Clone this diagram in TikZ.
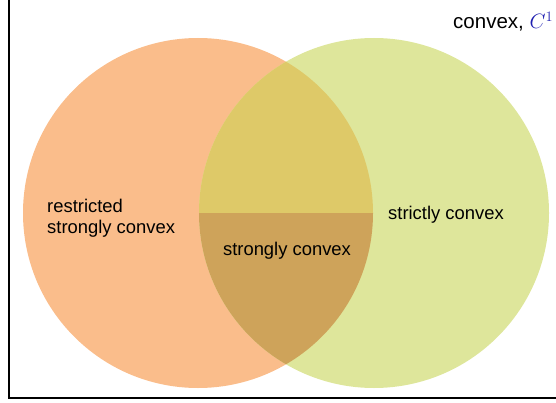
\documentclass[tikz,border=0pt]{standalone}
\usepackage{fontspec}
\setmainfont{Liberation Sans}
\usepackage{tikz}
\DeclareMathSizes{20.5}{20.74}{14.4}{12}

\definecolor{setorange}{HTML}{FABD8B}
\definecolor{setgreen}{HTML}{DEE69B}
\definecolor{lensupper}{HTML}{DEC968}
\definecolor{lenslower}{HTML}{CEA35A}
\definecolor{mathblue}{HTML}{1E1EB0}

\begin{document}
\begin{tikzpicture}
[
  x=1pt, y=1pt,
  venntext/.style = {inner sep = 0pt, font = \fontsize{18.4}{20.5}\selectfont},
]
\useasboundingbox (0,0) rectangle (556,402);
\clip (0,0) rectangle (556,402);

\coordinate (L) at (198,189);
\coordinate (R) at (374,189);

\fill[setorange] (L) circle (175pt);
\fill[setgreen] (R) circle (175pt);
\begin{scope}
  \clip (L) circle (175pt);
  \clip (R) circle (175pt);
  \fill[lensupper] (0,189) rectangle (556,402);
  \fill[lenslower] (0,0) rectangle (556,189);
\end{scope}

\draw[line width=2pt] (8.5,410) -- (8.5,4.5) -- (570,4.5);

\node (restricted) at (47,184) [venntext, anchor=west, align=left] {restricted\\strongly convex};
\node (strictly) at (388,187) [venntext, anchor=west] {strictly convex};
\node (strongly) at (287,151) [venntext] {strongly convex};
\node (convex) at (453,373) [venntext, anchor=base west, font=\fontsize{20.5}{24}\selectfont] {convex, \textcolor{mathblue}{$C^1$}};

\end{tikzpicture}
\end{document}
